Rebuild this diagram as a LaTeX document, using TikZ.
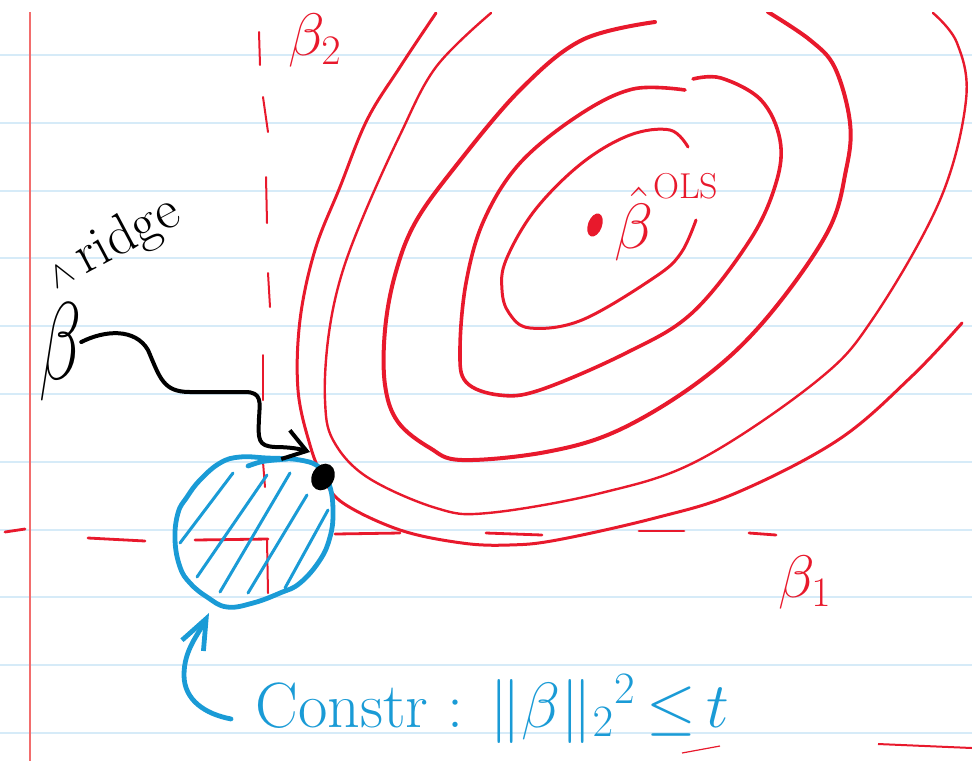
\documentclass[tikz,border=0pt]{standalone}
\usepackage{fix-cm}
\usepackage{xcolor}
\usepackage{tikz}
\usetikzlibrary{arrows.meta,shapes.geometric}
\definecolor{InkRed}{HTML}{E8192C}
\definecolor{InkBlue}{HTML}{1A9BD6}
\definecolor{InkBlack}{HTML}{000000}
\definecolor{PaperRule}{HTML}{D6EBF8}
\definecolor{PaperMargin}{HTML}{F26D6D}

\begin{document}
\begin{tikzpicture}[x=0.5pt,y=-0.5pt,
  rule/.style={PaperRule,line width=1pt},
  contour/.style={InkRed,line width=1.6pt,line cap=round,line join=round},
  axisdash/.style={InkRed,line width=1.4pt,line cap=round},
  redtxt/.style={InkRed,inner sep=0pt},
  bluetxt/.style={InkBlue,inner sep=0pt},
  blueink/.style={InkBlue,line width=2.4pt,line cap=round,line join=round},
  ridgearrow/.style={InkBlack,line width=2pt,line cap=round,line join=round,-{Straight Barb[length=11pt,width=15pt]}},
  constrarrow/.style={blueink,-{Straight Barb[length=15pt,width=12pt]}},
  ridgedot/.style={ellipse,fill=InkBlack,minimum width=11pt,minimum height=14pt,inner sep=0pt,rotate=-30},
  olsdot/.style={ellipse,fill=InkRed,minimum width=7pt,minimum height=12pt,inner sep=0pt,rotate=-20}]
\path[use as bounding box] (0,0) rectangle (972,761);
\begin{scope}
\clip (0,12) rectangle (972,761);
\foreach \k in {0,...,10}
  \draw[rule] (0,55+67.8*\k) -- (972,55+67.8*\k);
\draw[PaperMargin,line width=0.7pt] (30,12) -- (30,761);
\foreach \xa/\ya/\xb/\yb in {5/532/25/529, 88/538/145/541, 195/540/268/539, 335/534/400/533, 486/533/542/535, 639/531/684/531, 749/533/776/535}
  \draw[axisdash] (\xa,\ya) -- (\xb,\yb);
\foreach \xa/\ya/\xb/\yb in {259/32/260/65, 263/97/268/132, 266/177/267/223, 268/273/270/307, 263/355/263/400, 263/462/265/487, 267/540/268/593}
  \draw[axisdash,line width=1pt] (\xa,\ya) -- (\xb,\yb);
\draw[InkRed,line width=0.6pt] (682,753) -- (720,746);
\draw[InkRed,line width=1pt] (878,744) -- (972,748);
\draw[contour,line width=1.5pt] plot[smooth,tension=0.6] coordinates {(688,147) (670,130) (630,135) (582,163) (535,210) (506,260) (502,290) (509,313) (530,328) (582,320) (655,277) (681,253) (696,220)};
\draw[contour,line width=1.8pt] plot[smooth,tension=0.6] coordinates {(685,90) (633,89) (579,115) (520,163) (484,220) (466,283) (460,350) (466,382) (499,395) (540,390) (626,353) (692,313) (750,240) (776,183) (780,140) (761,100) (721,78) (693,79)};
\draw[contour,line width=2pt] plot[smooth,tension=0.6] coordinates {(655,22) (582,40) (520,90) (455,167) (415,223) (395,275) (385,330) (385,385) (398,422) (430,448) (462,460) (546,452) (619,430) (701,380) (765,320) (827,233) (846,170) (850,123) (835,68) (810,40) (768,12)};
\draw[contour,line width=1.2pt] plot[smooth,tension=0.6] coordinates {(491,13) (436,67) (400,135) (363,217) (340,280) (328,340) (325,400) (333,440) (367,477) (436,508) (488,513) (601,493) (699,460) (818,380) (874,317) (940,200) (966,100) (957,43) (933,13)};
\draw[contour,line width=1.5pt] plot[smooth,tension=0.6] coordinates {(436,13) (400,67) (367,120) (340,187) (315,250) (300,320) (298,390) (310,445) (323,477) (343,503) (400,530) (462,543) (509,545) (557,540) (655,518) (736,493) (838,440) (911,377) (962,323)};
\node[olsdot] (olsdot) at (595,225) {};
\node[redtxt,anchor=base west,font=\fontsize{32}{36}\selectfont] (olslab) at (614,248) {$\hat\beta$\raisebox{25pt}{\fontsize{18}{22}\selectfont OLS}};
\node[redtxt,font=\fontsize{30}{36}\selectfont] (betatwo) at (315,40) {$\beta_2$};
\node[redtxt,font=\fontsize{30}{36}\selectfont] (betaone) at (805,582) {$\beta_1$};
\draw[blueink] plot[smooth cycle,tension=0.7] coordinates {(240,457) (267,458) (300,460) (320,468) (330,487) (333,513) (330,537) (320,560) (300,583) (280,593) (253,603) (227,607) (207,597) (190,583) (180,567) (175,540) (178,513) (187,497) (200,480) (220,463)};
\draw[blueink] (248,466) .. controls (262,461) .. (287,459);
\foreach \xa/\ya/\xb/\yb in {180/543/233/473, 197/577/267/475, 220/592/290/473, 248/593/307/495, 285/588/328/510}
  \draw[blueink,line width=1.5pt] (\xa,\ya) -- (\xb,\yb);
\coordinate (balltip) at (209,613);
\node[ridgedot] (ridgedot) at (323,477) {};
\coordinate (ridgetip) at (310,452);
\node[font=\fontsize{46}{50}\selectfont,xscale=0.75,yscale=1.2,inner sep=0pt] (ridgebeta) at (60,352) {$\beta$};
\node[font=\fontsize{28}{32}\selectfont,rotate=28,inner sep=0pt] (ridgesup) at (113,244) {{\fontsize{18}{20}\selectfont$\wedge$}\,ridge};
\draw[ridgearrow] ([yshift=5pt]ridgebeta.east) .. controls (105,330) and (135,328) .. (148,350) .. controls (160,378) and (163,392) .. (190,392) -- (245,392) .. controls (262,392) and (260,402) .. (259,418) .. controls (258,440) and (258,446) .. (275,447) .. controls (290,447) and (300,449) .. (ridgetip);
\node[bluetxt,anchor=base west,font=\fontsize{32}{38}\selectfont] (constr) at (255,727) {Constr : $\|\beta\|_2{}^2\,{\le}\,t$};
\draw[constrarrow] ([shift={(-12pt,-5pt)}]constr.west) .. controls (205,714) and (184,700) .. (184,675) .. controls (184,650) and (198,635) .. (balltip);
\end{scope}
\end{tikzpicture}
\end{document}
